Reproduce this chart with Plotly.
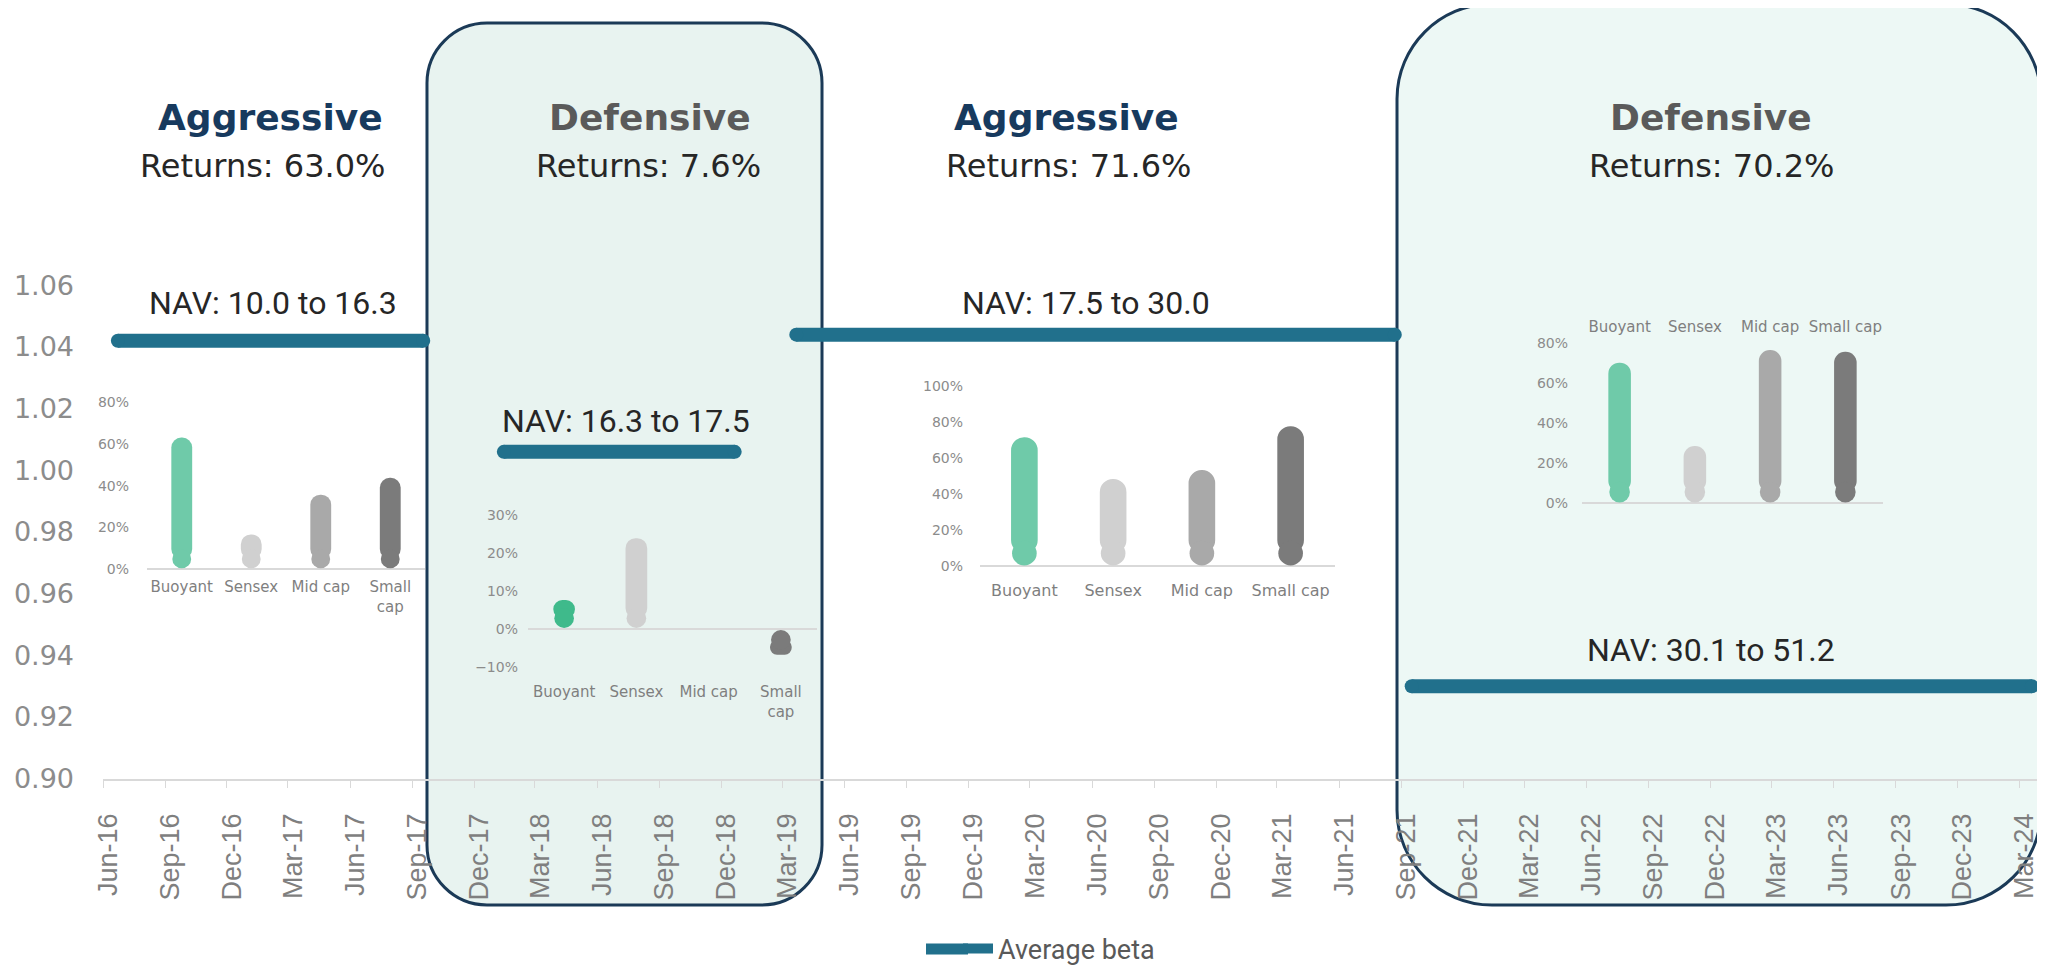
import plotly.graph_objects as go

# La página añade 8 px de margen al cuerpo; se compensa aquí
PAGE_W, PAGE_H = 2045, 965
OFF = 8
W, H = PAGE_W - OFF, PAGE_H - OFF

# Datos principales
quarter_dates = [
    "2016-06-01", "2016-09-01", "2016-12-01", "2017-03-01", "2017-06-01", "2017-09-01",
    "2017-12-01", "2018-03-01", "2018-06-01", "2018-09-01", "2018-12-01", "2019-03-01",
    "2019-06-01", "2019-09-01", "2019-12-01", "2020-03-01", "2020-06-01", "2020-09-01",
    "2020-12-01", "2021-03-01", "2021-06-01", "2021-09-01", "2021-12-01", "2022-03-01",
    "2022-06-01", "2022-09-01", "2022-12-01", "2023-03-01", "2023-06-01", "2023-09-01",
    "2023-12-01", "2024-03-01",
]
quarter_labels = [
    "Jun-16", "Sep-16", "Dec-16", "Mar-17", "Jun-17", "Sep-17",
    "Dec-17", "Mar-18", "Jun-18", "Sep-18", "Dec-18", "Mar-19",
    "Jun-19", "Sep-19", "Dec-19", "Mar-20", "Jun-20", "Sep-20",
    "Dec-20", "Mar-21", "Jun-21", "Sep-21", "Dec-21", "Mar-22",
    "Jun-22", "Sep-22", "Dec-22", "Mar-23", "Jun-23", "Sep-23",
    "Dec-23", "Mar-24",
]

seg_start = ["2016-06-23", "2018-01-14", "2019-03-22", "2021-09-16"]
seg_end = ["2017-09-17", "2018-12-21", "2021-08-22", "2024-03-20"]
avg_beta = [1.042, 1.006, 1.044, 0.930]

phase_names = ["Aggressive", "Defensive", "Aggressive", "Defensive"]
phase_returns = ["63.0%", "7.6%", "71.6%", "70.2%"]
nav_ranges = ["10.0 to 16.3", "16.3 to 17.5", "17.5 to 30.0", "30.1 to 51.2"]

categories = ["Buoyant", "Sensex", "Mid cap", "Small cap"]
returns_p1 = [63.0, 16.7, 35.7, 43.8]
returns_p2 = [7.6, 23.9, None, -6.8]
returns_p3 = [71.6, 48.5, 53.4, 77.7]
returns_p4 = [70.2, 28.6, 76.5, 75.6]


def fx(p):
    return (p - OFF) / W


def fy(p):
    return 1 - (p - OFF) / H


def rounded_box(x0, y0, x1, y1, r):
    k = 0.552 * r
    pts = [
        ("M", [(x0 + r, y0)]),
        ("L", [(x1 - r, y0)]),
        ("C", [(x1 - r + k, y0), (x1, y0 + r - k), (x1, y0 + r)]),
        ("L", [(x1, y1 - r)]),
        ("C", [(x1, y1 - r + k), (x1 - r + k, y1), (x1 - r, y1)]),
        ("L", [(x0 + r, y1)]),
        ("C", [(x0 + r - k, y1), (x0, y1 - r + k), (x0, y1 - r)]),
        ("L", [(x0, y0 + r)]),
        ("C", [(x0, y0 + r - k), (x0 + r - k, y0), (x0 + r, y0)]),
    ]
    path = ""
    for cmd, coords in pts:
        path += cmd + " ".join(f"{fx(a):.5f},{fy(b):.5f}" for a, b in coords) + " "
    return path + "Z"


fig = go.Figure()

# Línea de beta promedio
beta_x, beta_y = [], []
for s, e, b in zip(seg_start, seg_end, avg_beta):
    beta_x += [s, e, None]
    beta_y += [b, b, None]

beta_color = "#21708c"
fig.add_trace(
    go.Scatter(
        x=beta_x, y=beta_y, mode="lines", name="Average beta",
        line=dict(color=beta_color, width=14), connectgaps=False,
    )
)
fig.add_trace(
    go.Scatter(
        x=beta_x, y=beta_y, mode="markers", showlegend=False, hoverinfo="skip",
        marker=dict(color=beta_color, size=14),
    )
)

# Mini gráficos de barras (barras con extremos redondeados)
insets = [
    dict(vals=returns_p1, box=(147, 425, 570, 402), rng=[-0.3, 80], dtick=20,
         side="bottom", wrap=True, buoy="#6fcaa9", std=17, xstd=6, fs=15),
    dict(vals=returns_p2, box=(528, 817, 667, 515), rng=[-10, 30], dtick=10,
         side="bottom", wrap=True, buoy="#3fba8b", std=9, xstd=14, fs=15),
    dict(vals=returns_p3, box=(980, 1335, 567, 386), rng=[-0.3, 100], dtick=20,
         side="bottom", wrap=False, buoy="#6fcaa9", std=16, xstd=12, fs=16),
    dict(vals=returns_p4, box=(1582, 1883, 504, 343), rng=[-0.3, 80], dtick=20,
         side="top", wrap=False, buoy="#6fcaa9", std=13, xstd=7, fs=15),
]
bar_grays = ["#d0d0d0", "#a9a9a9", "#7b7b7b"]
BAR_W = 0.3

layout_axes = {}
for i, ins in enumerate(insets):
    n = i + 2
    colors = [ins["buoy"]] + bar_grays
    x0, x1, yb, yt = ins["box"]
    lo, hi = ins["rng"]
    bar_px = BAR_W * (x1 - x0) / len(categories)
    r_data = (bar_px / 2) / ((yb - yt) / (hi - lo))
    sgn = [(1 if v >= 0 else -1) if v is not None else None for v in ins["vals"]]
    base = [s * r_data if s is not None else None for s in sgn]
    size = [v - b if v is not None else None for v, b in zip(ins["vals"], base)]
    fig.add_trace(
        go.Bar(
            x=categories, y=size, base=base, width=BAR_W,
            marker=dict(color=colors, cornerradius="50%", line=dict(width=0)),
            xaxis=f"x{n}", yaxis=f"y{n}", showlegend=False, hoverinfo="skip",
        )
    )
    fig.add_trace(
        go.Scatter(
            x=categories, y=base, mode="markers",
            marker=dict(color=colors, size=bar_px - 2, line=dict(width=0)),
            xaxis=f"x{n}", yaxis=f"y{n}", showlegend=False, hoverinfo="skip",
            cliponaxis=False,
        )
    )
    ticktext = [c.replace(" ", "<br>") if (ins["wrap"] and c == "Small cap") else c
                for c in categories]
    layout_axes[f"xaxis{n}"] = dict(
        domain=[fx(x0), fx(x1)], anchor=f"y{n}", type="category",
        range=[-0.5, len(categories) - 0.5],
        tickvals=categories, ticktext=ticktext, side=ins["side"],
        showgrid=False, showline=False, ticks="", ticklabelstandoff=ins["xstd"],
        tickfont=dict(family="DejaVu Sans", size=ins["fs"], color="#7f7f7f"),
    )
    layout_axes[f"yaxis{n}"] = dict(
        domain=[fy(yb), fy(yt)], anchor=f"x{n}", range=ins["rng"],
        tick0=0, dtick=ins["dtick"], ticksuffix="%", showgrid=False,
        zeroline=True, zerolinecolor="#d9d9d9", zerolinewidth=1.5,
        showline=False, ticks="", ticklabelstandoff=ins["std"],
        tickfont=dict(family="DejaVu Sans", size=14, color="#8c8c8c"),
    )

# Cajas defensivas y prolongación del símbolo de la leyenda
shapes = [
    dict(type="path", xref="paper", yref="paper", layer="below",
         path=rounded_box(427, 23, 822, 905, 60),
         fillcolor="#e8f3f0", line=dict(color="#1b3a57", width=3)),
    dict(type="path", xref="paper", yref="paper", layer="below",
         path=rounded_box(1397, 4, 2041, 905, 95),
         fillcolor="#edf8f5", line=dict(color="#1b3a57", width=3)),
    dict(type="line", xref="paper", yref="paper", layer="above",
         x0=fx(926), x1=fx(968), y0=fy(949), y1=fy(949),
         line=dict(color=beta_color, width=11)),
]

# Textos
title_x = [270, 650, 1066, 1711]
returns_x = [262, 648, 1068, 1711]
nav_pos = [(273, 303), (626, 421), (1086, 303), (1711, 650)]
annotations = []
for name, ret, nav, tx, rx, (nx, ny) in zip(phase_names, phase_returns, nav_ranges,
                                           title_x, returns_x, nav_pos):
    annotations.append(dict(
        x=fx(tx), y=fy(117), xref="paper", yref="paper", showarrow=False,
        xanchor="center", yanchor="middle",
        text=f"<b>{name}</b>",
        font=dict(family="DejaVu Sans", size=36,
                  color="#173a5e" if name == "Aggressive" else "#5a5a5a"),
    ))
    annotations.append(dict(
        x=fx(rx), y=fy(166), xref="paper", yref="paper", showarrow=False,
        xanchor="center", yanchor="middle",
        text=f"Returns: {ret}",
        font=dict(family="DejaVu Sans", size=32, color="#262626"),
    ))
    annotations.append(dict(
        x=fx(nx), y=fy(ny), xref="paper", yref="paper", showarrow=False,
        xanchor="center", yanchor="middle",
        text=f"NAV: {nav}",
        font=dict(family="Roboto", size=32, color="#262626"),
    ))

fig.update_layout(
    width=W, height=H,
    margin=dict(l=0, r=0, t=0, b=0, autoexpand=False),
    paper_bgcolor="white", plot_bgcolor="rgba(0,0,0,0)",
    barmode="overlay",
    shapes=shapes,
    annotations=annotations,
    xaxis=dict(
        domain=[fx(103), fx(2040)], anchor="y", type="date",
        range=["2016-06-01", "2024-04-01"],
        tickvals=quarter_dates, ticktext=quarter_labels, tickangle=-90,
        ticks="outside", ticklen=7, tickcolor="#d9d9d9",
        showline=True, linecolor="#d9d9d9", linewidth=1.5,
        showgrid=False, zeroline=False, ticklabelstandoff=15, ticklabelshift=5,
        tickfont=dict(family="Liberation Sans", size=27, color="#7f7f7f"),
    ),
    yaxis=dict(
        domain=[fy(779), fy(285)], anchor="x",
        range=[0.8999, 1.0601], dtick=0.02, tick0=0.9, tickformat=".2f",
        showgrid=False, zeroline=False, showline=False, ticks="",
        ticklabelstandoff=28,
        tickfont=dict(family="DejaVu Sans", size=27, color="#8c8c8c"),
    ),
    legend=dict(
        orientation="h", x=fx(958), xanchor="left", y=fy(949), yanchor="middle",
        font=dict(family="Roboto", size=27, color="#595959"),
        bgcolor="rgba(0,0,0,0)",
    ),
    **layout_axes,
)

fig.write_html("out.html")
